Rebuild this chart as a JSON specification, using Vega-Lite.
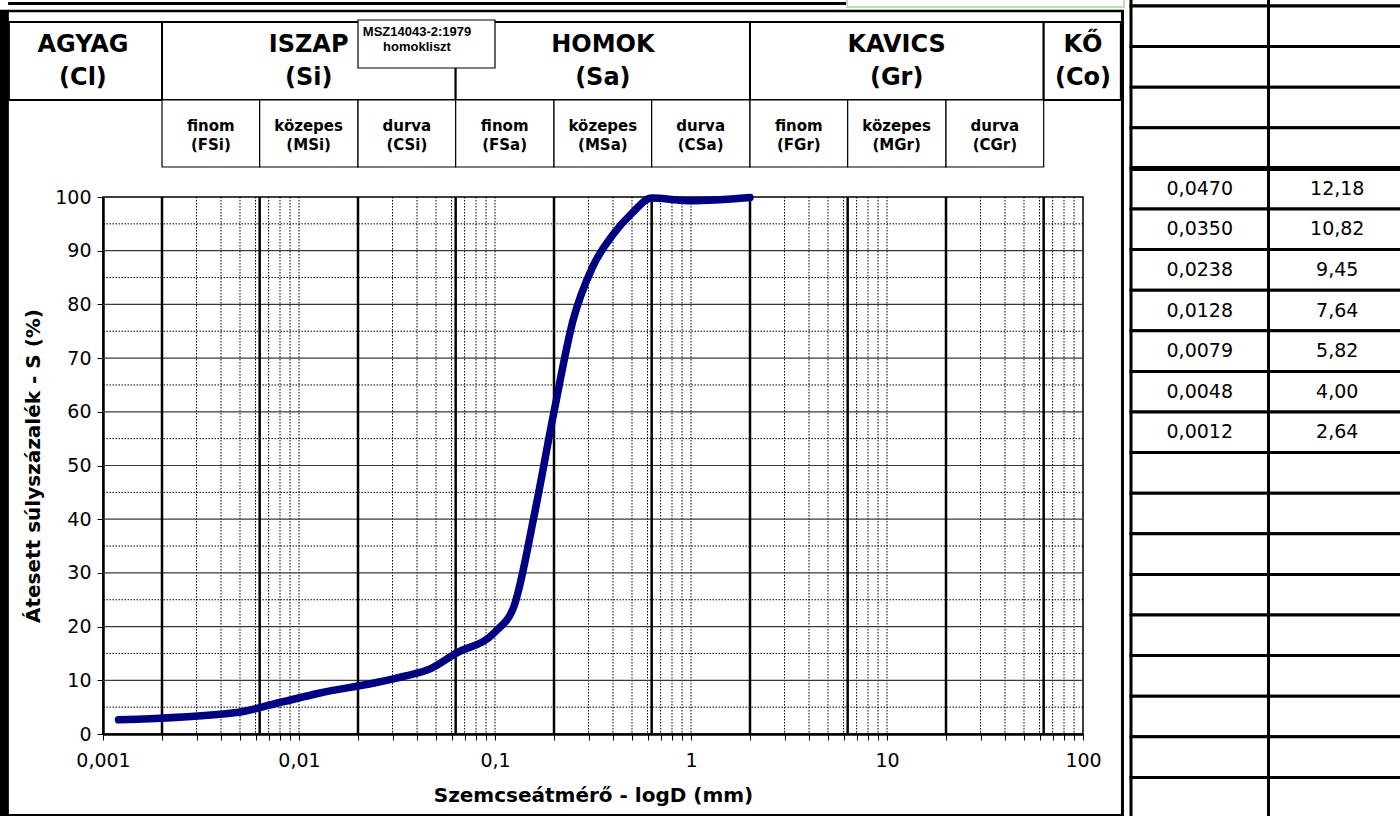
{
  "$schema": "https://vega.github.io/schema/vega-lite/v6.json",
  "usermeta": {"embedOptions": {"actions": false}},
  "width": 980,
  "height": 537,
  "autosize": {"type": "none"},
  "padding": {"left": 103, "top": 197, "right": 317, "bottom": 82},
  "background": "white",
  "config": {
    "view": {"stroke": "black", "strokeWidth": 1.5},
    "font": "DejaVu Sans",
    "axis": {
      "grid": false,
      "domainColor": "black",
      "domainWidth": 2.5,
      "tickColor": "black",
      "tickWidth": 1,
      "tickSize": 6,
      "labelFont": "DejaVu Sans",
      "labelFontSize": 19,
      "labelColor": "black",
      "titleFont": "DejaVu Sans",
      "titleFontSize": 20,
      "titleFontWeight": "bold",
      "titleColor": "black",
      "zindex": 1
    }
  },
  "datasets": {
    "curve": [
      {"d": 0.0012, "S": 2.64},
      {"d": 0.0048, "S": 4.0},
      {"d": 0.0079, "S": 5.82},
      {"d": 0.0128, "S": 7.64},
      {"d": 0.0238, "S": 9.45},
      {"d": 0.035, "S": 10.82},
      {"d": 0.047, "S": 12.18},
      {"d": 0.063, "S": 15.0},
      {"d": 0.1, "S": 19.0},
      {"d": 0.125, "S": 23.8},
      {"d": 0.16, "S": 41.5},
      {"d": 0.2, "S": 60},
      {"d": 0.25, "S": 77},
      {"d": 0.315, "S": 87},
      {"d": 0.4, "S": 93},
      {"d": 0.5, "S": 97},
      {"d": 0.63, "S": 99.8},
      {"d": 1, "S": 99.3},
      {"d": 2, "S": 99.9}
    ],
    "minor": [
      {"d": 0.002}, {"d": 0.003}, {"d": 0.004}, {"d": 0.005}, {"d": 0.006}, {"d": 0.007}, {"d": 0.008}, {"d": 0.009},
      {"d": 0.01}, {"d": 0.02}, {"d": 0.03}, {"d": 0.04}, {"d": 0.05}, {"d": 0.06}, {"d": 0.07}, {"d": 0.08}, {"d": 0.09},
      {"d": 0.1}, {"d": 0.2}, {"d": 0.3}, {"d": 0.4}, {"d": 0.5}, {"d": 0.6}, {"d": 0.7}, {"d": 0.8}, {"d": 0.9},
      {"d": 1}, {"d": 2}, {"d": 3}, {"d": 4}, {"d": 5}, {"d": 6}, {"d": 7}, {"d": 8}, {"d": 9},
      {"d": 10}, {"d": 20}, {"d": 30}, {"d": 40}, {"d": 50}, {"d": 60}, {"d": 70}, {"d": 80}, {"d": 90}
    ],
    "major": [
      {"d": 0.002}, {"d": 0.0063}, {"d": 0.02}, {"d": 0.063}, {"d": 0.2}, {"d": 0.63}, {"d": 2}, {"d": 6.3}, {"d": 20}, {"d": 63}
    ],
    "hsolid": [
      {"S": 10}, {"S": 20}, {"S": 30}, {"S": 40}, {"S": 50}, {"S": 60}, {"S": 70}, {"S": 80}, {"S": 90}
    ],
    "hdot": [
      {"S": 5}, {"S": 15}, {"S": 25}, {"S": 35}, {"S": 45}, {"S": 55}, {"S": 65}, {"S": 75}, {"S": 85}, {"S": 95}
    ],
    "fractions": [
      {"name": "AGYAG", "code": "(Cl)", "from": 0.000331, "to": 0.002, "mid": 0.00079},
      {"name": "ISZAP", "code": "(Si)", "from": 0.002, "to": 0.063, "mid": 0.0112},
      {"name": "HOMOK", "code": "(Sa)", "from": 0.063, "to": 2, "mid": 0.355},
      {"name": "KAVICS", "code": "(Gr)", "from": 2, "to": 63, "mid": 11.2},
      {"name": "KŐ", "code": "(Co)", "from": 63, "to": 156, "mid": 100}
    ],
    "subfractions": [
      {"name": "finom", "code": "(FSi)", "from": 0.002, "to": 0.0063, "mid": 0.00355},
      {"name": "közepes", "code": "(MSi)", "from": 0.0063, "to": 0.02, "mid": 0.0112},
      {"name": "durva", "code": "(CSi)", "from": 0.02, "to": 0.063, "mid": 0.0355},
      {"name": "finom", "code": "(FSa)", "from": 0.063, "to": 0.2, "mid": 0.112},
      {"name": "közepes", "code": "(MSa)", "from": 0.2, "to": 0.63, "mid": 0.355},
      {"name": "durva", "code": "(CSa)", "from": 0.63, "to": 2, "mid": 1.12},
      {"name": "finom", "code": "(FGr)", "from": 2, "to": 6.3, "mid": 3.55},
      {"name": "közepes", "code": "(MGr)", "from": 6.3, "to": 20, "mid": 11.2},
      {"name": "durva", "code": "(CGr)", "from": 20, "to": 63, "mid": 35.5}
    ],
    "msz": [
      {"line1": "MSZ14043-2:1979", "line2": "homokliszt", "from": 0.02, "to": 0.1, "mid": 0.04}
    ],
    "table": [
      {"row": 0, "D": "", "S": ""},
      {"row": 1, "D": "", "S": ""},
      {"row": 2, "D": "", "S": ""},
      {"row": 3, "D": "", "S": ""},
      {"row": 4, "D": "", "S": ""},
      {"row": 5, "D": "0,0470", "S": "12,18"},
      {"row": 6, "D": "0,0350", "S": "10,82"},
      {"row": 7, "D": "0,0238", "S": "9,45"},
      {"row": 8, "D": "0,0128", "S": "7,64"},
      {"row": 9, "D": "0,0079", "S": "5,82"},
      {"row": 10, "D": "0,0048", "S": "4,00"},
      {"row": 11, "D": "0,0012", "S": "2,64"},
      {"row": 12, "D": "", "S": ""},
      {"row": 13, "D": "", "S": ""},
      {"row": 14, "D": "", "S": ""},
      {"row": 15, "D": "", "S": ""},
      {"row": 16, "D": "", "S": ""},
      {"row": 17, "D": "", "S": ""},
      {"row": 18, "D": "", "S": ""},
      {"row": 19, "D": "", "S": ""},
      {"row": 20, "D": "", "S": ""}
    ]
  },
  "layer": [
    {
      "layer": [
        {
          "data": {"values": [{}]},
          "mark": {"type": "rect", "color": "black"},
          "encoding": {
            "x": {"datum": 0.000298, "type": "quantitative", "scale": {"type": "log", "domain": [0.001, 100], "nice": false}},
            "x2": {"datum": 0.000331},
            "y": {"datum": 134.82, "type": "quantitative", "scale": {"domain": [0, 100], "nice": false, "zero": false}},
            "y2": {"datum": -15.3}
          }
        },
        {
          "data": {"values": [{}]},
          "mark": {"type": "rule", "color": "black", "strokeWidth": 3},
          "encoding": {
            "x": {"datum": 0.000328, "type": "quantitative", "scale": {"type": "log", "domain": [0.001, 100], "nice": false}},
            "x2": {"datum": 6.25},
            "y": {"datum": 136.03, "type": "quantitative", "scale": {"domain": [0, 100], "nice": false, "zero": false}}
          }
        },
        {
          "data": {"values": [{}]},
          "mark": {"type": "rect", "filled": false, "color": "#b5e3aa", "strokeWidth": 2},
          "encoding": {
            "x": {"datum": 6.25, "type": "quantitative", "scale": {"type": "log", "domain": [0.001, 100], "nice": false}},
            "x2": {"datum": 161.9},
            "y": {"datum": 136.9, "type": "quantitative", "scale": {"domain": [0, 100], "nice": false, "zero": false}},
            "y2": {"datum": 135.4}
          }
        },
        {
          "data": {"values": [{}]},
          "mark": {"type": "rule", "color": "black", "strokeWidth": 2.5},
          "encoding": {
            "x": {"datum": 0.000298, "type": "quantitative", "scale": {"type": "log", "domain": [0.001, 100], "nice": false}},
            "x2": {"datum": 161.9},
            "y": {"datum": 134.64, "type": "quantitative", "scale": {"domain": [0, 100], "nice": false, "zero": false}}
          }
        },
        {
          "data": {"values": [{}]},
          "mark": {"type": "rule", "color": "black", "strokeWidth": 3},
          "encoding": {
            "x": {"datum": 159, "type": "quantitative", "scale": {"type": "log", "domain": [0.001, 100], "nice": false}},
            "y": {"datum": 134.82, "type": "quantitative", "scale": {"domain": [0, 100], "nice": false, "zero": false}},
            "y2": {"datum": -15.3}
          }
        },
        {
          "data": {"values": [{}]},
          "mark": {"type": "rule", "color": "black", "strokeWidth": 2},
          "encoding": {
            "x": {"datum": 0.000298, "type": "quantitative", "scale": {"type": "log", "domain": [0.001, 100], "nice": false}},
            "x2": {"datum": 159},
            "y": {"datum": -15.1, "type": "quantitative", "scale": {"domain": [0, 100], "nice": false, "zero": false}}
          }
        },
        {
          "data": {"name": "fractions"},
          "mark": {"type": "rect", "fill": "white", "stroke": "black", "strokeWidth": 2},
          "encoding": {
            "x": {"field": "from", "type": "quantitative", "scale": {"type": "log", "domain": [0.001, 100], "nice": false}},
            "x2": {"field": "to"},
            "y": {"datum": 132.59, "type": "quantitative", "scale": {"domain": [0, 100], "nice": false, "zero": false}},
            "y2": {"datum": 118.06}
          }
        },
        {
          "data": {"name": "subfractions"},
          "mark": {"type": "rect", "fill": "white", "stroke": "black", "strokeWidth": 1.2},
          "encoding": {
            "x": {"field": "from", "type": "quantitative", "scale": {"type": "log", "domain": [0.001, 100], "nice": false}},
            "x2": {"field": "to"},
            "y": {"datum": 118.06, "type": "quantitative", "scale": {"domain": [0, 100], "nice": false, "zero": false}},
            "y2": {"datum": 105.59}
          }
        },
        {
          "data": {"name": "msz"},
          "mark": {"type": "rect", "fill": "white", "stroke": "black", "strokeWidth": 1.2},
          "encoding": {
            "x": {"field": "from", "type": "quantitative", "scale": {"type": "log", "domain": [0.001, 100], "nice": false}},
            "x2": {"field": "to"},
            "y": {"datum": 132.96, "type": "quantitative", "scale": {"domain": [0, 100], "nice": false, "zero": false}},
            "y2": {"datum": 124.02}
          }
        },
        {
          "data": {"name": "fractions"},
          "mark": {"type": "text", "font": "DejaVu Sans", "fontWeight": "bold", "fontSize": 24, "color": "black", "baseline": "middle", "align": "center"},
          "encoding": {
            "x": {"field": "mid", "type": "quantitative", "scale": {"type": "log", "domain": [0.001, 100], "nice": false}},
            "y": {"datum": 128.31, "type": "quantitative", "scale": {"domain": [0, 100], "nice": false, "zero": false}},
            "text": {"field": "name"}
          }
        },
        {
          "data": {"name": "fractions"},
          "mark": {"type": "text", "font": "DejaVu Sans", "fontWeight": "bold", "fontSize": 24, "color": "black", "baseline": "middle", "align": "center"},
          "encoding": {
            "x": {"field": "mid", "type": "quantitative", "scale": {"type": "log", "domain": [0.001, 100], "nice": false}},
            "y": {"datum": 122.16, "type": "quantitative", "scale": {"domain": [0, 100], "nice": false, "zero": false}},
            "text": {"field": "code"}
          }
        },
        {
          "data": {"name": "subfractions"},
          "mark": {"type": "text", "font": "DejaVu Sans", "fontWeight": "bold", "fontSize": 15, "color": "black", "baseline": "middle", "align": "center"},
          "encoding": {
            "x": {"field": "mid", "type": "quantitative", "scale": {"type": "log", "domain": [0.001, 100], "nice": false}},
            "y": {"datum": 113.22, "type": "quantitative", "scale": {"domain": [0, 100], "nice": false, "zero": false}},
            "text": {"field": "name"}
          }
        },
        {
          "data": {"name": "subfractions"},
          "mark": {"type": "text", "font": "DejaVu Sans", "fontWeight": "bold", "fontSize": 15, "color": "black", "baseline": "middle", "align": "center"},
          "encoding": {
            "x": {"field": "mid", "type": "quantitative", "scale": {"type": "log", "domain": [0.001, 100], "nice": false}},
            "y": {"datum": 109.68, "type": "quantitative", "scale": {"domain": [0, 100], "nice": false, "zero": false}},
            "text": {"field": "code"}
          }
        },
        {
          "data": {"name": "msz"},
          "mark": {"type": "text", "font": "Liberation Sans", "fontWeight": "bold", "fontSize": 13, "color": "black", "baseline": "middle", "align": "center"},
          "encoding": {
            "x": {"field": "mid", "type": "quantitative", "scale": {"type": "log", "domain": [0.001, 100], "nice": false}},
            "y": {"datum": 130.73, "type": "quantitative", "scale": {"domain": [0, 100], "nice": false, "zero": false}},
            "text": {"field": "line1"}
          }
        },
        {
          "data": {"name": "msz"},
          "mark": {"type": "text", "font": "Liberation Sans", "fontWeight": "bold", "fontSize": 13, "color": "black", "baseline": "middle", "align": "center"},
          "encoding": {
            "x": {"field": "mid", "type": "quantitative", "scale": {"type": "log", "domain": [0.001, 100], "nice": false}},
            "y": {"datum": 127.93, "type": "quantitative", "scale": {"domain": [0, 100], "nice": false, "zero": false}},
            "text": {"field": "line2"}
          }
        },
        {
          "data": {"name": "minor"},
          "mark": {"type": "rule", "color": "black", "strokeWidth": 1, "strokeDash": [1.5, 1.5]},
          "encoding": {
            "x": {"field": "d", "type": "quantitative", "scale": {"type": "log", "domain": [0.001, 100], "nice": false}}
          }
        },
        {
          "data": {"name": "hdot"},
          "mark": {"type": "rule", "color": "black", "strokeWidth": 1, "strokeDash": [1.5, 1.5]},
          "encoding": {
            "y": {"field": "S", "type": "quantitative", "scale": {"domain": [0, 100], "nice": false, "zero": false}}
          }
        },
        {
          "data": {"name": "hsolid"},
          "mark": {"type": "rule", "color": "#3a3a3a", "strokeWidth": 1.2},
          "encoding": {
            "y": {"field": "S", "type": "quantitative", "scale": {"domain": [0, 100], "nice": false, "zero": false}}
          }
        },
        {
          "data": {"name": "major"},
          "mark": {"type": "rule", "color": "black", "strokeWidth": 2.5},
          "encoding": {
            "x": {"field": "d", "type": "quantitative", "scale": {"type": "log", "domain": [0.001, 100], "nice": false}}
          }
        },
        {
          "data": {"name": "curve"},
          "mark": {"type": "line", "color": "#000080", "strokeWidth": 7.5, "interpolate": "monotone", "strokeCap": "round", "strokeJoin": "round"},
          "encoding": {
            "x": {
              "field": "d", "type": "quantitative",
              "scale": {"type": "log", "domain": [0.001, 100], "nice": false},
              "axis": {
                "values": [0.001, 0.002, 0.003, 0.004, 0.005, 0.006, 0.007, 0.008, 0.009, 0.01, 0.02, 0.03, 0.04, 0.05, 0.06, 0.07, 0.08, 0.09, 0.1, 0.2, 0.3, 0.4, 0.5, 0.6, 0.7, 0.8, 0.9, 1, 2, 3, 4, 5, 6, 7, 8, 9, 10, 20, 30, 40, 50, 60, 70, 80, 90, 100],
                "labelExpr": "indexof([0.001, 0.01, 0.1, 1, 10, 100], datum.value) >= 0 ? replace(toString(datum.value), '.', ',') : ''",
                "labelOverlap": false,
                "labelFlush": false,
                "labelPadding": 11,
                "title": "Szemcseátmérő - logD (mm)",
                "titlePadding": 15
              }
            },
            "y": {
              "field": "S", "type": "quantitative",
              "scale": {"domain": [0, 100], "nice": false, "zero": false},
              "axis": {
                "values": [0, 10, 20, 30, 40, 50, 60, 70, 80, 90, 100],
                "labelPadding": 6,
                "title": "Átesett súlyszázalék - S (%)",
                "titlePadding": 11
              }
            }
          }
        }
      ]
    },
    {
      "data": {"name": "table"},
      "transform": [{"fold": ["D", "S"], "as": ["col", "val"]}],
      "encoding": {
        "x": {"field": "col", "type": "nominal", "scale": {"domain": ["D", "S"], "range": [1028, 1303], "paddingInner": 0, "paddingOuter": 0}, "axis": null},
        "y": {"field": "row", "type": "ordinal", "scale": {"domain": [0, 1, 2, 3, 4, 5, 6, 7, 8, 9, 10, 11, 12, 13, 14, 15, 16, 17, 18, 19, 20], "range": [-231.6, 621], "paddingInner": 0, "paddingOuter": 0}, "axis": null}
      },
      "layer": [
        {"mark": {"type": "rect", "fill": "white", "stroke": "black", "strokeWidth": 3}},
        {
          "transform": [{"filter": "datum.row == 5"}],
          "mark": {"type": "rect", "color": "black", "height": 5, "yOffset": -20.3}
        },
        {
          "mark": {"type": "text", "font": "DejaVu Sans", "fontSize": 19, "color": "black", "baseline": "middle", "align": "center"},
          "encoding": {"text": {"field": "val"}}
        }
      ]
    }
  ],
  "resolve": {"scale": {"x": "independent", "y": "independent"}}
}
